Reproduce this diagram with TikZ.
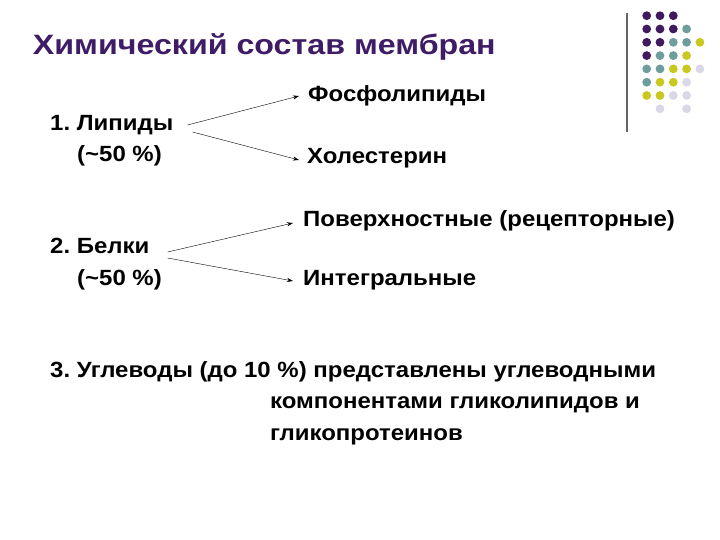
\documentclass[tikz,border=0pt]{standalone}
\usepackage{fontspec}
\setmainfont{Liberation Sans}
\frenchspacing
\usetikzlibrary{arrows.meta}
\definecolor{dotP}{HTML}{3F1A5E}
\definecolor{dotT}{HTML}{6E9E9C}
\definecolor{dotY}{HTML}{C9C820}
\definecolor{dotL}{HTML}{D8D8E6}
\definecolor{dotW}{HTML}{FFFFFF}
\definecolor{ttl}{HTML}{3F1C66}
\newcommand\wtxt[1]{\scalebox{1.09}[1]{#1}}
\tikzset{
  txt/.style={anchor=base west,inner sep=0pt,font=\bfseries\fontsize{22}{26}\selectfont},
  arr/.style={-{Stealth[length=6pt,width=4pt]},thin},
}

\begin{document}
\begin{tikzpicture}[x=1pt,y=-1pt]
\useasboundingbox[fill=white](0,0)rectangle(720,540);
% dots top right
\foreach \r/\a/\b/\c/\d/\e in {1/P/P/P/W/W,2/P/P/P/T/W,3/P/P/T/T/Y,4/P/T/T/Y/W,5/T/T/Y/Y/L,6/T/Y/Y/L/W,7/Y/Y/L/L/W,8/W/L/W/L/W}{
  \foreach \col [count=\i] in {\a,\b,\c,\d,\e}
    \fill[dot\col](633.4+13.3*\i,2.4+13.3*\r)circle(4.4);
}
\draw[gray!80!black,line width=2pt](626.7,12.7)--(626.7,131.7);
\draw (32.7,55)node[anchor=base west,inner sep=0pt,text=ttl,font=\bfseries\fontsize{28}{32}\selectfont](title){\scalebox{1.15}[1]{Химический состав мембран}};
\node[txt](fos) at (308,102){\wtxt{Фосфолипиды}};
\node[txt](lip) at (50,131){\wtxt{1. Липиды}};
\node[txt](lipp) at (77,162){\wtxt{(\textasciitilde50 \%)}};
\node[txt](hol) at (307,164){\wtxt{Холестерин}};
\node[txt](pov) at (303,226){\wtxt{Поверхностные (рецепторные)}};
\node[txt](bel) at (50,254){\wtxt{2. Белки}};
\node[txt](belp) at (77,285){\wtxt{(\textasciitilde50 \%)}};
\node[txt](int) at (303,285){\wtxt{Интегральные}};
\node[txt](ugl) at (50,377){\wtxt{3. Углеводы (до 10 \%) представлены углеводными}};
\node[txt](ugl2) at (270,408){\wtxt{компонентами гликолипидов и}};
\node[txt](ugl3) at (270,440){\wtxt{гликопротеинов}};
\draw[arr]([xshift=14pt,yshift=6pt]lip.base east)--([xshift=-9pt,yshift=6pt]fos.base west);
\draw[arr]([xshift=19pt,yshift=-1pt]lip.base east)--([xshift=-8pt,yshift=4pt]hol.base west);
\draw[arr]([xshift=18pt,yshift=2pt]bel.base east)--([xshift=-10pt,yshift=3pt]pov.base west);
\draw[arr]([xshift=18pt,yshift=-4pt]bel.base east)--([xshift=-10pt,yshift=4pt]int.base west);
\end{tikzpicture}
\end{document}
